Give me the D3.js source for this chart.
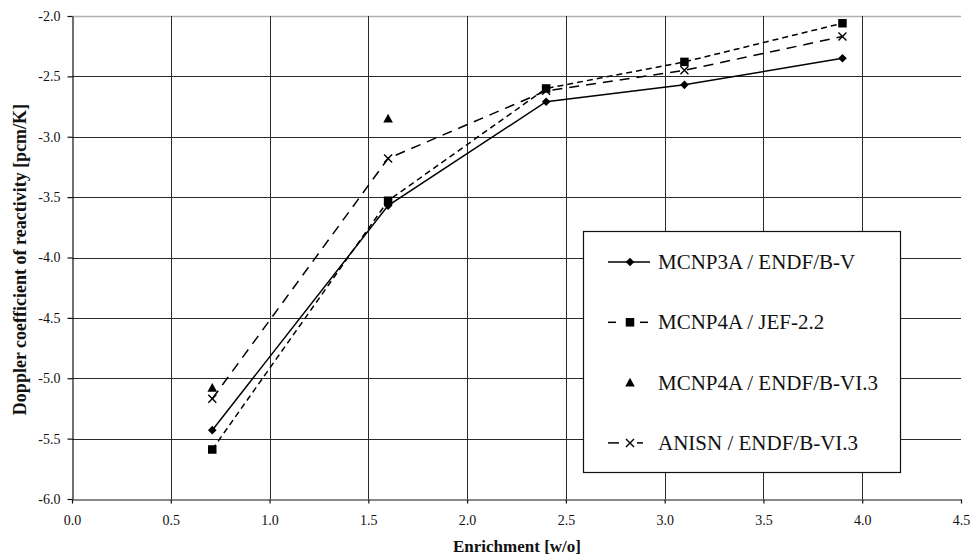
<!DOCTYPE html>
<html>
<head>
<meta charset="utf-8">
<script src="https://cdn.jsdelivr.net/npm/d3@7/dist/d3.min.js"></script>
<style>
  body { margin: 0; background: #fff; }
  svg { display: block; }
</style>
</head>
<body>
<svg id="chart" width="971" height="558"></svg>
<script>
// Enrichment values (w/o) at which the Doppler coefficient was computed
const enrichment = [0.71, 1.6, 2.4, 3.1, 3.9];

// Doppler coefficient of reactivity [pcm/K] per code / library
const mcnp3aEndfB5 = [-5.43, -3.57, -2.71, -2.57, -2.35];
const mcnp4aJef22 = [-5.59, -3.53, -2.60, -2.38, -2.06];
const mcnp4aEndfB63 = [-5.08, -2.85, null, null, null];
const anisnEndfB63 = [-5.17, -3.18, -2.62, -2.45, -2.17];

const seriesNames = [
  "MCNP3A / ENDF/B-V",
  "MCNP4A / JEF-2.2",
  "MCNP4A / ENDF/B-VI.3",
  "ANISN / ENDF/B-VI.3"
];

const xTicks = [0, 0.5, 1, 1.5, 2, 2.5, 3, 3.5, 4, 4.5];
const xTickLabels = ["0.0", "0.5", "1.0", "1.5", "2.0", "2.5", "3.0", "3.5", "4.0", "4.5"];
const yTicks = [-6, -5.5, -5, -4.5, -4, -3.5, -3, -2.5, -2];
const yTickLabels = ["-6.0", "-5.5", "-5.0", "-4.5", "-4.0", "-3.5", "-3.0", "-2.5", "-2.0"];

const xTitle = "Enrichment [w/o]";
const yTitle = "Doppler coefficient of reactivity [pcm/K]";

// ---- layout ----
const W = 971, H = 558;
const plot = { left: 72, top: 16, right: 961, bottom: 499 };
const serif = "'Liberation Serif', 'Times New Roman', serif";

const svg = d3.select("#chart");
svg.append("rect").attr("width", W).attr("height", H).attr("fill", "#fff");

const x = d3.scaleLinear().domain([0, 4.5]).range([plot.left, plot.right]);
const y = d3.scaleLinear().domain([-6, -2]).range([plot.bottom, plot.top]);

// ---- grid ----
const grid = svg.append("g").attr("stroke", "#2a2a2a").attr("stroke-width", 1);
grid.selectAll("line.h")
  .data(yTicks.filter(v => v > -6 && v < -2))
  .join("line")
  .attr("x1", plot.left).attr("x2", plot.right)
  .attr("y1", d => Math.round(y(d)) + 0.5).attr("y2", d => Math.round(y(d)) + 0.5);
grid.append("line")
  .attr("x1", plot.left).attr("x2", plot.right)
  .attr("y1", Math.round(y(-2)) + 0.5).attr("y2", Math.round(y(-2)) + 0.5)
  .attr("stroke", "#b0b0b0").attr("stroke-width", 1.5);
grid.selectAll("line.v")
  .data(xTicks.filter(v => v > 0 && v < 4.5))
  .join("line")
  .attr("x1", d => Math.round(x(d)) + 0.5).attr("x2", d => Math.round(x(d)) + 0.5)
  .attr("y1", plot.top).attr("y2", plot.bottom);

// ---- axes ----
const xAxis = d3.axisBottom(x)
  .tickValues(xTicks)
  .tickFormat((d, i) => xTickLabels[i])
  .tickSizeInner(4).tickSizeOuter(0).tickPadding(12);
const gx = svg.append("g")
  .attr("transform", `translate(0,${Math.round(y(-6)) + 0.5})`)
  .call(xAxis);

const yAxis = d3.axisLeft(y)
  .tickValues(yTicks)
  .tickFormat((d, i) => yTickLabels[i])
  .tickSizeInner(5).tickSizeOuter(0).tickPadding(7);
const gy = svg.append("g")
  .attr("transform", `translate(${plot.left + 0.5},0)`)
  .call(yAxis);

[gx, gy].forEach(g => {
  g.attr("font-family", serif).attr("font-size", 14);
  g.select(".domain").attr("stroke", "#111").attr("stroke-width", 1.2);
  g.selectAll(".tick line").attr("stroke", "#111").attr("stroke-width", 1.2);
  g.selectAll(".tick text")
    .attr("fill", "#111")
    .style("font-family", serif)
    .style("font-size", "14px");
});

// ---- axis titles ----
svg.append("text")
  .attr("x", 517).attr("y", 552)
  .attr("text-anchor", "middle")
  .style("font-family", serif).style("font-size", "17px").style("font-weight", "bold")
  .attr("fill", "#111")
  .text(xTitle);

svg.append("text")
  .attr("transform", `translate(26,${(plot.top + plot.bottom) / 2 + 2}) rotate(-90)`)
  .attr("text-anchor", "middle")
  .style("font-family", serif).style("font-size", "18px").style("font-weight", "bold")
  .attr("fill", "#111")
  .text(yTitle);

// ---- markers ----
function drawMarker(g, type, cx, cy) {
  if (type === "diamond") {
    const r = 4.3;
    g.append("path")
      .attr("d", `M${cx},${cy - r}L${cx + r},${cy}L${cx},${cy + r}L${cx - r},${cy}Z`)
      .attr("fill", "#000");
  } else if (type === "square") {
    const s = 8.5;
    g.append("rect")
      .attr("x", cx - s / 2).attr("y", cy - s / 2)
      .attr("width", s).attr("height", s)
      .attr("fill", "#000");
  } else if (type === "triangle") {
    const r = 4.8;
    g.append("path")
      .attr("d", `M${cx},${cy - r}L${cx + r},${cy + r * 0.8}L${cx - r},${cy + r * 0.8}Z`)
      .attr("fill", "#000");
  } else if (type === "cross") {
    const r = 4;
    g.append("path")
      .attr("d", `M${cx - r},${cy - r}L${cx + r},${cy + r}M${cx - r},${cy + r}L${cx + r},${cy - r}`)
      .attr("stroke", "#000").attr("stroke-width", 1.4).attr("fill", "none");
  }
}

// legend sample segments (x ranges) for each line style
const solidSample = [[608, 650]];
const shortDashSample = [[608, 616], [640, 648]];
const longDashSample = [[608, 619], [637, 643]];

const series = [
  { name: seriesNames[0], values: mcnp3aEndfB5, marker: "diamond", dash: null, line: true, sample: solidSample },
  { name: seriesNames[1], values: mcnp4aJef22, marker: "square", dash: "6,4", line: true, sample: shortDashSample },
  { name: seriesNames[2], values: mcnp4aEndfB63, marker: "triangle", dash: null, line: false, sample: [] },
  { name: seriesNames[3], values: anisnEndfB63, marker: "cross", dash: "10,7", line: true, sample: longDashSample }
];

const lineGen = d3.line()
  .defined(d => d.v != null)
  .x(d => x(d.e))
  .y(d => y(d.v));

const marks = svg.append("g");
series.forEach(s => {
  const pts = enrichment.map((e, i) => ({ e, v: s.values[i] }));
  if (s.line) {
    marks.append("path")
      .datum(pts)
      .attr("d", lineGen)
      .attr("fill", "none")
      .attr("stroke", "#000")
      .attr("stroke-width", 1.5)
      .attr("stroke-dasharray", s.dash);
  }
  pts.filter(d => d.v != null).forEach(d => drawMarker(marks, s.marker, x(d.e), y(d.v)));
});

// ---- legend ----
const legend = svg.append("g");
legend.append("rect")
  .attr("x", 583.5).attr("y", 231.5)
  .attr("width", 317).attr("height", 241)
  .attr("fill", "#fff").attr("stroke", "#111").attr("stroke-width", 1.2);

series.forEach((s, i) => {
  const cy = 262 + i * 60.3;
  const row = legend.append("g");
  s.sample.forEach(([a, b]) => {
    row.append("line")
      .attr("x1", a).attr("x2", b)
      .attr("y1", cy).attr("y2", cy)
      .attr("stroke", "#000").attr("stroke-width", 1.5);
  });
  drawMarker(row, s.marker, 630, cy);
  row.append("text")
    .attr("x", 658).attr("y", cy + 7)
    .style("font-family", serif).style("font-size", "21px")
    .attr("fill", "#111")
    .text(s.name);
});
</script>
</body>
</html>
